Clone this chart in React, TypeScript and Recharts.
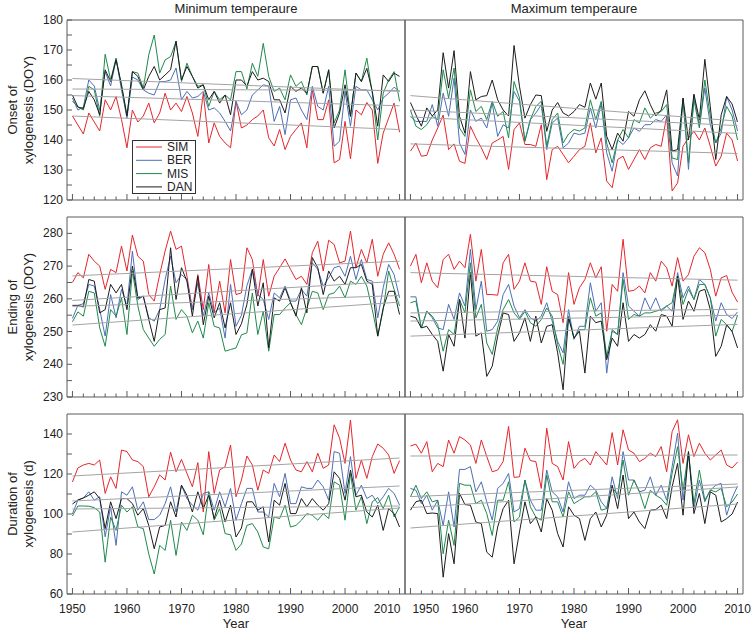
import React from 'react';
import { LineChart, Line, XAxis, YAxis, ReferenceArea, Legend } from 'recharts';

const FONT = '"Liberation Sans", Arial, Helvetica, sans-serif';
const AXIS = '#5a5a5a';
const TEXT = '#222222';
const TREND = '#a3a3a3';

const years = [
  1950, 1951, 1952, 1953, 1954, 1955, 1956, 1957, 1958, 1959,
  1960, 1961, 1962, 1963, 1964, 1965, 1966, 1967, 1968, 1969,
  1970, 1971, 1972, 1973, 1974, 1975, 1976, 1977, 1978, 1979,
  1980, 1981, 1982, 1983, 1984, 1985, 1986, 1987, 1988, 1989,
  1990, 1991, 1992, 1993, 1994, 1995, 1996, 1997, 1998, 1999,
  2000, 2001, 2002, 2003, 2004, 2005, 2006, 2007, 2008, 2009, 2010,
];
const xTicks = [
  1950, 1952, 1954, 1956, 1958, 1960, 1962, 1964, 1966, 1968, 1970,
  1972, 1974, 1976, 1978, 1980, 1982, 1984, 1986, 1988, 1990,
  1992, 1994, 1996, 1998, 2000, 2002, 2004, 2006, 2008, 2010,
];
const seriesNames = ['SIM', 'BER', 'MIS', 'DAN'];
const seriesColors = ['#e5262c', '#4d6fb6', '#1f8a4c', '#1c1c1c'];

// ---------- Onset, minimum temperature ----------
const onsetMinSIM = [148, 145, 142, 149, 146, 143, 153.4, 150, 154.5, 146.8, 137.4, 150, 146, 148, 152.3, 145.7, 149, 155.6, 150, 152.3, 149.5, 154.5, 149, 141.2, 155.6, 139, 145.7, 141.2, 139, 137.4, 152.9, 144, 145, 146.8, 148, 150, 140.7, 138, 143.5, 136.8, 141.2, 143.5, 145.7, 137.4, 156.7, 146.8, 146.8, 153.4, 132.4, 133.5, 146.2, 133.7, 150, 148.4, 152.5, 150, 132.2, 142.3, 147.3, 152.3, 142.6];
const onsetMinBER = [154, 150, 151, 160, 158, 150, 162.8, 158, 167, 156.7, 147.3, 161, 160, 156.7, 155.6, 155, 159.5, 159.5, 160, 164, 153.4, 156.2, 154, 154.5, 156.2, 150, 150.7, 149, 146.2, 143, 152.9, 148.4, 150, 155, 156.7, 158.4, 158, 146.2, 151.2, 141.8, 153.4, 154, 150, 146.8, 157.9, 151.2, 150, 157.9, 137.9, 139.6, 156.2, 144.6, 157.9, 156.7, 156.7, 153.4, 150, 154, 155.6, 157.6, 156.2];
const onsetMinMIS = [153, 151, 150, 157.9, 156.7, 147.9, 168.6, 160, 167.3, 157.9, 148, 162.8, 162.3, 157.3, 168.4, 175, 162.3, 166.7, 167.8, 172.8, 159.5, 165.6, 161.2, 157.9, 158.4, 151.2, 156.2, 153.4, 155, 153.4, 162.8, 162.8, 157, 165.6, 161.2, 172.2, 161.2, 156.2, 157.3, 153.4, 161.7, 157.9, 159.5, 155, 164.5, 164.5, 155.6, 163.4, 145.7, 150, 163.4, 147.9, 162.3, 159.5, 167.3, 155.6, 140, 155.6, 160, 162.8, 152.9];
const onsetMinDAN = [155, 151, 150.5, 156.2, 153.4, 148.4, 163.4, 159.5, 166.7, 158.4, 148, 162.8, 161.2, 156.7, 161.2, 164.5, 160, 161.7, 163.4, 173, 160, 164.5, 161.2, 157.3, 158.4, 153.4, 156.2, 152.3, 155, 148.4, 160, 160, 158, 162.8, 160, 160.6, 159.5, 153.4, 153.4, 149, 157.9, 156.2, 157.3, 155.6, 164.5, 164.5, 155.6, 163.4, 144, 149, 158.4, 147.9, 162.3, 159.5, 163.9, 156.2, 144.6, 161.7, 159.5, 162.3, 161.2];
const onsetMinTrendStart = [148, 154.8, 160.5, 157];
const onsetMinTrendEnd = [143.5, 151.4, 156.2, 156.5];

// ---------- Onset, maximum temperature ----------
const onsetMaxSIM = [136.3, 139, 134.6, 134.9, 140, 144, 148.3, 136.8, 138.7, 132.9, 132.2, 144.6, 140.7, 137.4, 133.5, 139, 140, 141.2, 130.2, 143.5, 145.7, 138.5, 138.5, 137.9, 145.1, 126.8, 136.8, 137.9, 135.2, 132.4, 134.6, 136.8, 137.9, 145.7, 135.7, 140.7, 126.3, 124.1, 133.5, 134.6, 130.2, 133.5, 136.8, 133.5, 137.4, 138.5, 137.9, 147.9, 123, 125.7, 137.9, 140.7, 142.9, 140, 144, 137.9, 131.3, 134.6, 142.3, 140, 133];
const onsetMaxBER = [147.9, 146.2, 146.2, 146.2, 151.8, 144.6, 155.6, 147.9, 160.6, 139, 135.2, 150, 146.2, 147.3, 144, 152.3, 141.2, 145.1, 144, 156.2, 152.9, 139.6, 146.8, 149, 151.8, 136.8, 145.7, 147.3, 137.4, 139, 142.3, 141.8, 142.3, 150.7, 144, 152.3, 135.7, 129.6, 140, 138.5, 140.7, 144, 142.9, 145.1, 145.1, 146.8, 146.2, 148.4, 132.4, 128, 154, 130.2, 155, 144.6, 157.3, 145.1, 139, 142.3, 154.5, 150, 143];
const onsetMaxMIS = [150, 144.6, 143.5, 145.1, 147.9, 146.8, 163.4, 154, 164, 144, 141.2, 156.7, 149.5, 151.2, 146.8, 152.9, 147.9, 149.5, 140.7, 159.5, 154, 139.6, 146.8, 151.2, 152.9, 137.9, 146.8, 149, 139, 142, 143.5, 143, 144, 153.4, 146.8, 152.9, 139, 132.4, 140, 143.5, 140.7, 146.8, 145.7, 150.7, 147.3, 149, 149.5, 151.8, 134, 133.5, 153.4, 132.4, 153.4, 144, 160, 147.9, 139, 144, 151.2, 148, 140];
const onsetMaxDAN = [152.5, 148.4, 144.6, 150.7, 148, 150, 169.1, 157.3, 169.8, 147.9, 142.3, 162.8, 153.4, 154.5, 154.8, 160, 153.4, 150, 148, 171.5, 157.9, 147.3, 151.8, 155, 154.8, 142.9, 150, 152.5, 149, 148, 149.5, 151.8, 150.9, 159, 153.6, 159, 141.2, 136.8, 142.3, 139.6, 149.5, 147.9, 153.4, 156.4, 151.8, 148, 150, 156.7, 136.3, 136.8, 154, 140, 155.3, 146.8, 166.9, 151.2, 133.5, 148.4, 154.5, 152, 146];
const onsetMaxTrendStart = [138.7, 147.7, 150, 154.8];
const onsetMaxTrendEnd = [135.5, 142.2, 144.8, 146.3];

// ---------- Ending, minimum temperature ----------
const endMinSIM = [265, 268, 266.4, 273.6, 271.5, 270, 262.9, 269, 268, 276.1, 268.5, 279.5, 273, 271.5, 261.3, 259.3, 267.4, 274.6, 280.7, 275.1, 276.1, 266.9, 256.7, 267.4, 256.7, 270.5, 255.7, 265.4, 255.7, 272, 261.3, 261.8, 275.6, 272, 260.8, 272, 260.8, 266.9, 269.5, 272.2, 269, 265.9, 266.9, 264.4, 274.1, 277.6, 268.5, 277.9, 276.6, 271, 271.5, 280.7, 269.5, 275.1, 271, 278.2, 266.9, 273.6, 277.1, 273.6, 269];
const endMinBER = [254, 258, 258.5, 264.4, 263.9, 256.7, 248.6, 261.3, 254.2, 262.9, 257.8, 274.6, 259.8, 260.8, 254.2, 253.2, 256.7, 265.9, 273, 264.9, 267.4, 265.9, 256.7, 264.9, 254.7, 261.8, 255.7, 257.2, 248, 264.4, 251.6, 255, 264, 269, 261.3, 259.8, 253.7, 261.8, 260.3, 263.9, 259.3, 259.3, 262.9, 260.8, 271, 269, 263.9, 266.4, 269.5, 270, 266.9, 273, 265.9, 272, 265.9, 265.4, 254.2, 263.4, 270.5, 267.4, 260.3];
const endMinMIS = [253, 256, 254.7, 262.3, 261.8, 251.1, 245.5, 256.7, 254.7, 260.3, 249.1, 268.5, 257.8, 250.6, 248, 245.5, 247.6, 249.1, 263.9, 253.7, 256.7, 254.7, 249.6, 253.2, 248, 258.8, 251.6, 251.1, 244, 244.5, 245, 249, 249.6, 261.8, 249.1, 256.2, 244, 255.2, 255.2, 257.2, 258.8, 255.2, 252.1, 257.2, 262.3, 261.8, 256.7, 261.3, 261.8, 263.9, 260.3, 265.4, 264.4, 266.9, 263.9, 256.7, 248.6, 256.7, 268.5, 262.9, 257.8];
const endMinDAN = [258, 258, 257.5, 265.9, 265.4, 255.7, 256.7, 264.4, 261.8, 264.4, 256.7, 270, 260.3, 260.8, 253.7, 247, 256.7, 257.2, 275.6, 259.8, 269.5, 265.4, 254.7, 266.9, 252.1, 260.8, 254.2, 258.8, 251.1, 258.8, 249.1, 252.4, 258.3, 269, 257.8, 264.9, 245, 260.3, 259.3, 263.4, 258.8, 254.7, 263.4, 255.7, 272.6, 269.5, 261.3, 268.5, 265.4, 266.9, 264.4, 269.5, 269.5, 270.5, 265.4, 264.4, 248.6, 257.2, 262.3, 262.3, 255.2];
const endMinTrendStart = [267, 259.5, 252, 257.7];
const endMinTrendEnd = [271.5, 265.4, 259, 261];

// ---------- Ending, maximum temperature ----------
const endMaxSIM = [270, 273.6, 264.9, 271, 265.4, 263.4, 272, 273.6, 269, 271.5, 269.5, 279.7, 265.4, 275.1, 261.3, 261.3, 261.1, 271, 273.6, 262.9, 265.4, 271, 265.4, 265.1, 258.3, 269.8, 262.3, 261.3, 252.7, 268, 258.3, 263.4, 265.9, 271, 266.4, 269.8, 250.1, 264.4, 262.3, 278.2, 262.3, 262.6, 263.9, 261.8, 268, 265.4, 271.5, 269.5, 263.9, 272.6, 265.4, 267.4, 273, 275.6, 274.1, 269, 260.8, 266.4, 267.1, 262, 259];
const endMaxBER = [260.6, 260.6, 251.1, 256.2, 254.2, 251.1, 250.6, 258.3, 253.7, 261.8, 257.8, 275.1, 256.7, 265.4, 250.1, 250.6, 253.2, 261.3, 264.4, 257.8, 254.2, 256.7, 254.2, 253.2, 254.7, 258.8, 253.2, 247, 243.5, 256.7, 247.6, 251.6, 251.6, 264.9, 256.2, 258.8, 237.3, 250.6, 249.1, 268, 257.8, 256.2, 254.7, 260.3, 256.7, 260.3, 256.2, 257.8, 256.2, 268, 260.3, 263.9, 259.8, 265.9, 264.4, 260.3, 253.2, 258.8, 255.2, 254, 256];
const endMaxMIS = [258.8, 259.3, 251.1, 256.2, 254.7, 252.1, 244, 250.6, 249.1, 259.8, 255.7, 271, 254.2, 258.3, 246.5, 243, 251.1, 256.7, 259.8, 255.7, 253.7, 256.2, 252.7, 251.6, 253.7, 257.2, 254.7, 246, 240, 254.7, 248, 250.6, 250.6, 260.3, 254.7, 255.7, 242.4, 250.1, 249.1, 265.9, 253.7, 255.2, 254.7, 255.7, 255.7, 256.2, 256.7, 257.8, 258.8, 266.9, 258.3, 262.9, 259.8, 264.4, 264.4, 260.3, 248.6, 253.7, 252.1, 250, 255];
const endMaxDAN = [254.7, 254.2, 251.1, 251.6, 249.1, 247, 237.9, 249.1, 245.5, 259.8, 248, 268, 248.6, 249.6, 236.3, 239.4, 248.6, 255.7, 255.2, 247, 249.6, 254.2, 247, 254.7, 246.5, 251.6, 252.1, 243.5, 232.2, 254.2, 248, 250.1, 237.3, 254.7, 252.7, 253.2, 241.4, 248, 245.5, 258.8, 247, 249.1, 248, 249.1, 252.1, 250.1, 255.2, 254.7, 251.6, 266.9, 253.7, 259.3, 256.2, 262.3, 262.9, 256.7, 242.4, 245.5, 252.1, 250, 245];
const endMaxTrendStart = [268, 255.7, 253.2, 248.6];
const endMaxTrendEnd = [265.7, 256.8, 255, 252.2];

// ---------- Duration, minimum temperature ----------
const durMinSIM = [116, 123, 124.5, 125.3, 124.5, 127, 110.3, 118.6, 112.8, 132, 131.2, 127, 126.2, 123.7, 108.6, 113.6, 119.5, 117, 130.9, 121.1, 127.3, 120.3, 113.6, 125.7, 101, 131.2, 110.3, 122, 123.7, 134.5, 108.6, 117, 129, 124.5, 111.9, 122, 120.3, 129.5, 126.2, 135.4, 127, 122, 121.1, 126.2, 121.1, 130.4, 122.8, 124.5, 144.6, 137.9, 125.3, 147, 117.8, 127, 117.8, 128.7, 135, 132.9, 129.5, 120.3, 126.7];
const durMinBER = [100, 107, 108, 111.1, 106.9, 108.6, 88.6, 103.6, 84.3, 111.1, 109.4, 113.6, 101.9, 106.1, 97.2, 97.2, 99.4, 105.2, 113.6, 101, 114.4, 107.7, 104.4, 101.9, 110.3, 111.1, 101.9, 111.1, 103.6, 112.8, 96.9, 105.2, 112.8, 112.8, 101, 101, 98.5, 115.3, 108.6, 120.3, 105.2, 105.2, 113.6, 112.8, 112.8, 117, 113.6, 106.9, 131.2, 130.4, 110.3, 128.7, 109.4, 114.4, 107.7, 109.4, 105.2, 108.6, 112.8, 110.3, 104.4];
const durMinMIS = [99, 104, 104, 103.9, 103.2, 101, 75.9, 98.5, 91.8, 104.4, 101, 103.6, 93.5, 92.7, 80, 70, 84.3, 81.8, 96.9, 79.3, 96, 91.8, 99.4, 96.9, 89.6, 111.1, 96.9, 102.7, 90.2, 89.6, 81.8, 85, 94.3, 95.2, 91, 83.5, 82.6, 98.5, 97.7, 104.4, 93.5, 94.3, 96.9, 100.2, 99.4, 96.9, 100.2, 97.7, 116.1, 114.4, 96.9, 120.3, 101.9, 108.6, 95.2, 106.1, 108.2, 102.7, 109.4, 98.5, 103.6];
const durMinDAN = [105, 107, 108, 109.4, 111.1, 107.7, 92.7, 106.1, 97.7, 107.7, 107.7, 105.2, 99.4, 102.7, 94.3, 82.6, 93.5, 94.3, 106.1, 98.5, 114.4, 109.4, 101, 111.1, 102.7, 109.4, 97.7, 106.9, 96, 104.4, 88.5, 93, 106.1, 106.1, 101.9, 103.6, 86, 106.9, 104.4, 115.3, 100.2, 100.2, 107.7, 103.6, 107.7, 104.4, 101.9, 105.2, 121.1, 117.8, 106.9, 122, 108.6, 109.4, 101, 98.5, 104.4, 91.8, 102.7, 100.2, 93.5];
const durMinTrendStart = [119, 106.5, 91, 102.5];
const durMinTrendEnd = [128, 114, 103, 104];

// ---------- Duration, maximum temperature ----------
const durMaxSIM = [134, 134.9, 130.4, 136.2, 121.1, 125.3, 123.7, 137, 130.4, 138.7, 137, 134.5, 125.3, 137, 128.7, 121.1, 122, 126.2, 143.8, 118.3, 118.6, 132.9, 126.7, 126.2, 112.8, 142.9, 125.3, 123.7, 117, 136.2, 122.8, 126.2, 127.8, 124.5, 131.2, 127.8, 124.5, 140.7, 124.5, 142.1, 132, 130.4, 126.2, 127.8, 130.4, 128.7, 133.7, 121.1, 141.2, 147.1, 125.3, 139.6, 128.7, 135.4, 130.4, 127, 129.5, 132, 124.5, 123, 126];
const durMaxBER = [112.8, 111.9, 105.2, 109.4, 101.9, 106.9, 94.3, 111.1, 93.5, 122.3, 122.3, 123.7, 111.1, 116.1, 106.1, 96.9, 112.8, 115.3, 120.3, 101, 102.7, 117, 106.9, 101.9, 101.9, 122, 111.1, 108.6, 101, 116.1, 107.7, 109.4, 109.4, 114.4, 111.9, 106.1, 102.7, 118.6, 107.7, 131.2, 117, 117, 111.1, 111.9, 118.6, 109.4, 114.4, 106.9, 123.7, 140.4, 106.9, 130.4, 102.7, 117, 106.1, 111.9, 114.4, 115.3, 99.4, 108, 114];
const durMaxMIS = [108.6, 114.4, 107.7, 111.1, 106.1, 106.9, 80.1, 96.9, 84.3, 115.3, 114.4, 114.4, 105.2, 106.9, 100.2, 89.3, 106.9, 106.9, 116.1, 96, 98.5, 117, 103.6, 98.5, 96.9, 119.5, 106.1, 106.1, 98.5, 111.1, 105.2, 106.9, 108.6, 108.6, 111.1, 101.9, 102.7, 113.6, 109.4, 127, 109.4, 117, 111.1, 102.7, 111.9, 109.4, 107.7, 104.4, 120.3, 133.7, 111.9, 131.2, 105.2, 122, 106.9, 111.9, 111.1, 112.8, 103.6, 106, 110];
const durMaxDAN = [101.9, 106.1, 106.9, 100.2, 100.5, 100.2, 68.4, 90.2, 75.1, 110.3, 104.7, 104.4, 96, 95.2, 80.9, 78.4, 93.5, 102.7, 106.9, 75.1, 91, 106.1, 95.2, 98.5, 91, 107.7, 101.9, 90.2, 83.5, 103.6, 99.4, 97.7, 86.8, 97.7, 101, 93.5, 99.4, 114.4, 102.7, 119.5, 97.7, 101, 96, 92.7, 101.9, 102.2, 104.4, 97.7, 113.6, 125.3, 99.4, 131.2, 100.2, 110.3, 95.2, 111.1, 109.4, 96, 97.7, 100, 106];
const durMaxTrendStart = [129, 108.7, 103.2, 93];
const durMaxTrendEnd = [129.5, 115, 113.5, 105];

// ---------- Axis ticks ----------
const onsetTicks = [120, 125, 130, 135, 140, 145, 150, 155, 160, 165, 170, 175, 180];
const endTicks = [230, 235, 240, 245, 250, 255, 260, 265, 270, 275, 280];
const durTicks = [60, 70, 80, 90, 100, 110, 120, 130, 140];

const columnTitles = ['Minimum temperaure', 'Maximum temperaure'];
const rowTitles = [
  ['Onset of', 'xylogenesis (DOY)'],
  ['Ending of', 'xylogenesis (DOY)'],
  ['Duration of', 'xylogenesis (d)'],
];

type PanelProps = {
  series: number[][];
  trendStart: number[];
  trendEnd: number[];
  domain: [number, number];
  yTicks: number[];
  labelStep: number;
  isLeft: boolean;
  isBottom: boolean;
  plotTop: number;
  legend?: boolean;
};

function makeXTick(showLabels: boolean, isLeft: boolean) {
  return (props: any) => {
    const { x, y, payload } = props;
    const v = payload.value as number;
    const major = v % 10 === 0;
    let anchor: 'middle' | 'start' | 'end' = 'middle';
    let tx = x;
    if (isLeft && v === 2010) {
      anchor = 'end';
      tx = x + 1;
    }
    if (!isLeft && v === 1950) {
      anchor = 'start';
      tx = x + 2;
    }
    return (
      <g>
        <line x1={x} x2={x} y1={y} y2={y - (major ? 6 : 3.5)} stroke={AXIS} strokeWidth={1} />
        {showLabels && major ? (
          <text x={tx} y={y + 19} textAnchor={anchor} fontSize={12} fill={TEXT} fontFamily={FONT}>
            {v}
          </text>
        ) : null}
      </g>
    );
  };
}

function makeYTick(showLabels: boolean, step: number) {
  return (props: any) => {
    const { x, y, payload } = props;
    const v = payload.value as number;
    return (
      <g>
        <line x1={x} x2={x + 5} y1={y} y2={y} stroke={AXIS} strokeWidth={1} />
        {showLabels && v % step === 0 ? (
          <text x={x - 4} y={y} dy={4} textAnchor="end" fontSize={12} fill={TEXT} fontFamily={FONT}>
            {v}
          </text>
        ) : null}
      </g>
    );
  };
}

const renderLegend = () => (
  <svg width={64} height={54} style={{ display: 'block' }}>
    <rect x={0.5} y={0.5} width={63} height={53} fill="#ffffff" stroke="#333333" strokeWidth={1} />
    {seriesNames.map((n, k) => (
      <g key={n}>
        <line x1={4} x2={30} y1={7 + 13.3 * k} y2={7 + 13.3 * k} stroke={seriesColors[k]} strokeWidth={1} />
        <text x={35} y={7 + 13.3 * k + 4} fontSize={12} fontFamily={FONT} fill={TEXT}>
          {n}
        </text>
      </g>
    ))}
  </svg>
);

function Panel(p: PanelProps) {
  const last = years.length - 1;
  const data = years.map((yr, i) => {
    const row: Record<string, number | null> = { year: yr };
    seriesNames.forEach((n, k) => {
      row[n] = p.series[k][i];
      row['t' + n] = i === 0 ? p.trendStart[k] : i === last ? p.trendEnd[k] : null;
    });
    return row;
  });
  const width = p.isLeft ? 410 : 353;
  return (
    <div style={{ position: 'absolute', left: p.isLeft ? 0 : 400, top: p.plotTop - 20, width, height: 240 }}>
      <LineChart
        width={width}
        height={240}
        data={data}
        margin={{ top: 20, right: p.isLeft ? 5 : 10, bottom: 0, left: p.isLeft ? 7 : 5 }}
      >
        <XAxis
          dataKey="year"
          type="number"
          domain={[1949, 2011]}
          ticks={xTicks}
          interval={0}
          height={40}
          tickSize={0}
          tickMargin={0}
          tickLine={false}
          axisLine={false}
          tick={makeXTick(p.isBottom, p.isLeft)}
          label={
            p.isBottom
              ? (lp: any) => {
                  const vb = lp.viewBox || {};
                  return (
                    <text
                      x={vb.x + vb.width / 2}
                      y={vb.y + 34}
                      textAnchor="middle"
                      fontSize={13}
                      fill={TEXT}
                      fontFamily={FONT}
                    >
                      Year
                    </text>
                  );
                }
              : undefined
          }
        />
        <YAxis
          type="number"
          domain={p.domain}
          ticks={p.yTicks}
          interval={0}
          width={p.isLeft ? 60 : 0}
          tickSize={0}
          tickMargin={0}
          tickLine={false}
          axisLine={false}
          allowDataOverflow
          tick={makeYTick(p.isLeft, p.labelStep)}
        />
        <ReferenceArea
          x1={1949}
          x2={2011}
          y1={p.domain[0]}
          y2={p.domain[1]}
          fill="none"
          fillOpacity={0}
          stroke={AXIS}
          strokeWidth={1}
          strokeOpacity={1}
        />
        {seriesNames.map((n, k) => (
          <Line
            key={n}
            type="linear"
            dataKey={n}
            stroke={seriesColors[k]}
            strokeWidth={1}
            dot={false}
            activeDot={false}
            isAnimationActive={false}
          />
        ))}
        {seriesNames.map((n) => (
          <Line
            key={'t' + n}
            type="linear"
            dataKey={'t' + n}
            stroke={TREND}
            strokeWidth={1}
            dot={false}
            activeDot={false}
            connectNulls
            legendType="none"
            isAnimationActive={false}
          />
        ))}
        {p.legend ? (
          <Legend
            layout="vertical"
            align="center"
            verticalAlign="middle"
            content={renderLegend}
            wrapperStyle={{ left: 132, top: 140, width: 64, height: 54, lineHeight: 0 }}
          />
        ) : null}
      </LineChart>
    </div>
  );
}

const rowTops = [20, 217, 414];
const rowCenters = [110, 307, 504];

export default function App() {
  return (
    <div
      style={{
        position: 'absolute',
        left: 0,
        top: 0,
        width: 753,
        height: 631,
        background: '#ffffff',
        overflow: 'hidden',
        fontFamily: FONT,
      }}
    >
      <svg
        width={753}
        height={631}
        style={{ position: 'absolute', left: 0, top: 0, pointerEvents: 'none' }}
      >
        <text x={236} y={13} textAnchor="middle" fontSize={13} fill={TEXT} fontFamily={FONT}>
          {columnTitles[0]}
        </text>
        <text x={574} y={13} textAnchor="middle" fontSize={13} fill={TEXT} fontFamily={FONT}>
          {columnTitles[1]}
        </text>
        {rowTitles.map((lines, r) => (
          <g key={r}>
            <text
              transform={`translate(12, ${rowCenters[r]}) rotate(-90)`}
              textAnchor="middle"
              dominantBaseline="central"
              fontSize={13}
              fill={TEXT}
              fontFamily={FONT}
            >
              {lines[0]}
            </text>
            <text
              transform={`translate(28, ${rowCenters[r]}) rotate(-90)`}
              textAnchor="middle"
              dominantBaseline="central"
              fontSize={13}
              fill={TEXT}
              fontFamily={FONT}
            >
              {lines[1]}
            </text>
          </g>
        ))}
      </svg>

      <Panel
        series={[onsetMinSIM, onsetMinBER, onsetMinMIS, onsetMinDAN]}
        trendStart={onsetMinTrendStart}
        trendEnd={onsetMinTrendEnd}
        domain={[120, 180]}
        yTicks={onsetTicks}
        labelStep={10}
        isLeft
        isBottom={false}
        plotTop={rowTops[0]}
        legend
      />
      <Panel
        series={[onsetMaxSIM, onsetMaxBER, onsetMaxMIS, onsetMaxDAN]}
        trendStart={onsetMaxTrendStart}
        trendEnd={onsetMaxTrendEnd}
        domain={[120, 180]}
        yTicks={onsetTicks}
        labelStep={10}
        isLeft={false}
        isBottom={false}
        plotTop={rowTops[0]}
      />
      <Panel
        series={[endMinSIM, endMinBER, endMinMIS, endMinDAN]}
        trendStart={endMinTrendStart}
        trendEnd={endMinTrendEnd}
        domain={[230, 285]}
        yTicks={endTicks}
        labelStep={10}
        isLeft
        isBottom={false}
        plotTop={rowTops[1]}
      />
      <Panel
        series={[endMaxSIM, endMaxBER, endMaxMIS, endMaxDAN]}
        trendStart={endMaxTrendStart}
        trendEnd={endMaxTrendEnd}
        domain={[230, 285]}
        yTicks={endTicks}
        labelStep={10}
        isLeft={false}
        isBottom={false}
        plotTop={rowTops[1]}
      />
      <Panel
        series={[durMinSIM, durMinBER, durMinMIS, durMinDAN]}
        trendStart={durMinTrendStart}
        trendEnd={durMinTrendEnd}
        domain={[60, 150]}
        yTicks={durTicks}
        labelStep={20}
        isLeft
        isBottom
        plotTop={rowTops[2]}
      />
      <Panel
        series={[durMaxSIM, durMaxBER, durMaxMIS, durMaxDAN]}
        trendStart={durMaxTrendStart}
        trendEnd={durMaxTrendEnd}
        domain={[60, 150]}
        yTicks={durTicks}
        labelStep={20}
        isLeft={false}
        isBottom
        plotTop={rowTops[2]}
      />
    </div>
  );
}
